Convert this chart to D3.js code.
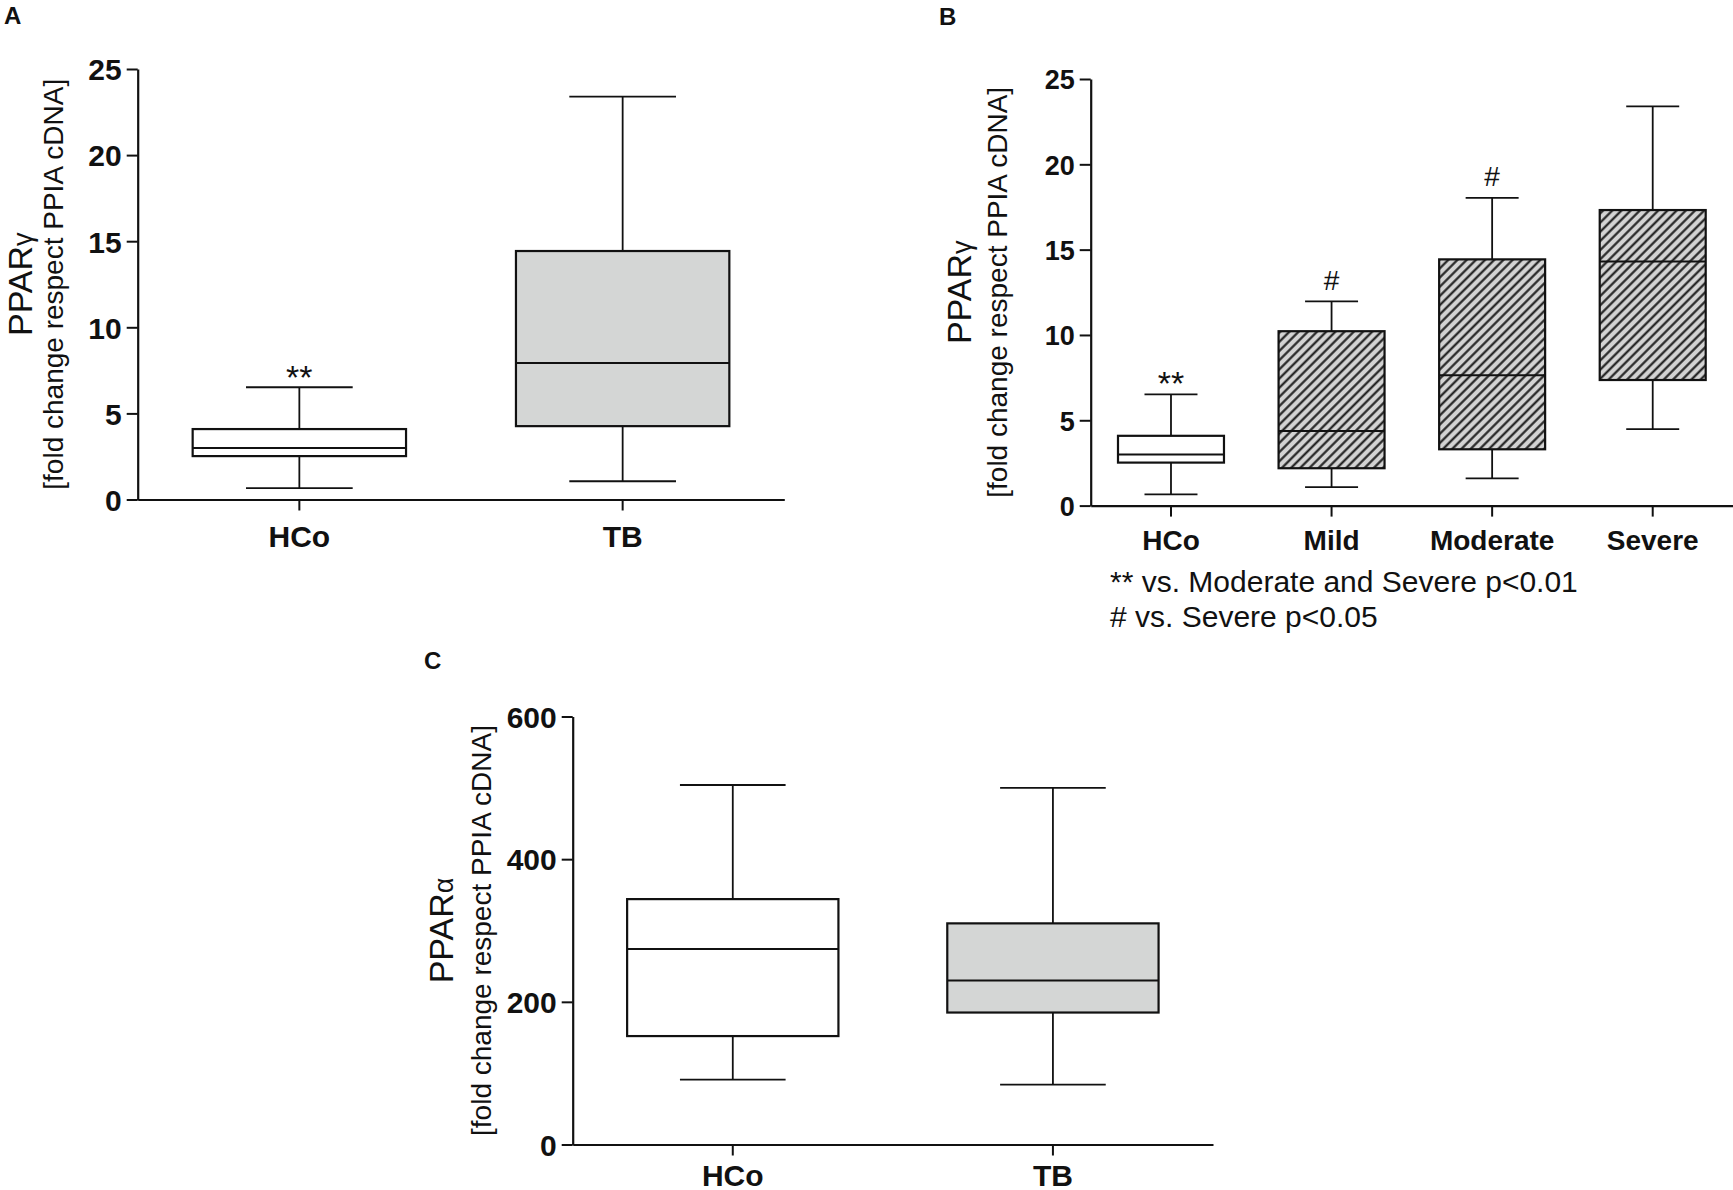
<!DOCTYPE html>
<html>
<head>
<meta charset="utf-8">
<script src="https://cdn.jsdelivr.net/npm/d3@7"></script>
<style>
    body { margin: 0; background: #fff; }
    svg { display: block; }
    text { font-family: "Liberation Sans", Arial, sans-serif; fill: #111; }
</style>
</head>
<body>
<div id="chart"></div>
<script>
// Panel A: PPARgamma, HCo vs TB
const groupsA = ["HCo", "TB"];
const lowA = [0.66, 1.06];
const q1A = [2.52, 4.26];
const medianA = [2.99, 7.92];
const q3A = [4.09, 14.43];
const highA = [6.52, 23.4];
const ticksA = [0, 5, 10, 15, 20, 25];
const fillsA = ["white", "gray"];
const notesA = [{ group: "HCo", text: "**", value: 7.63 }];

// Panel B: PPARgamma by severity
const groupsB = ["HCo", "Mild", "Moderate", "Severe"];
const lowB = [0.66, 1.08, 1.6, 4.48];
const q1B = [2.52, 2.19, 3.3, 7.36];
const medianB = [2.99, 4.37, 7.64, 14.31];
const q3B = [4.09, 10.22, 14.43, 17.32];
const highB = [6.52, 11.97, 18.03, 23.4];
const ticksB = [0, 5, 10, 15, 20, 25];
const fillsB = ["white", "hatch", "hatch", "hatch"];
const notesB = [
    { group: "HCo", text: "**", value: 7.7 },
    { group: "Mild", text: "#", value: 13.2 },
    { group: "Moderate", text: "#", value: 19.3 }
];
const footnotesB = ["** vs. Moderate and Severe p<0.01", "# vs. Severe p<0.05"];

// Panel C: PPARalpha, HCo vs TB
const groupsC = ["HCo", "TB"];
const lowC = [91, 84];
const q1C = [152, 185];
const medianC = [274, 230];
const q3C = [344, 310];
const highC = [504, 500];
const ticksC = [0, 200, 400, 600];
const fillsC = ["white", "gray"];

const width = 1733, height = 1190;
const ink = "#111";

const svg = d3.select("#chart").append("svg")
    .attr("width", width)
    .attr("height", height)
    .attr("viewBox", `0 0 ${width} ${height}`);

// diagonal hatch used by the disease groups in B
const hatchStep = 6.5;
const hatch = svg.append("defs").append("pattern")
    .attr("id", "hatch")
    .attr("patternUnits", "userSpaceOnUse")
    .attr("width", hatchStep)
    .attr("height", hatchStep)
    .attr("patternTransform", "rotate(45)");
hatch.append("rect").attr("width", hatchStep).attr("height", hatchStep).attr("fill", "#d3d3d3");
hatch.append("line")
    .attr("x1", hatchStep / 2).attr("y1", 0).attr("x2", hatchStep / 2).attr("y2", hatchStep)
    .attr("stroke", "#1a1a1a").attr("stroke-width", 2.1);

const fillColor = f => f === "hatch" ? "url(#hatch)" : f === "gray" ? "#d4d6d5" : "#fff";

function drawPanel(o) {
    const x = d3.scaleBand().domain(o.groups).range([o.left, o.right]);
    const y = d3.scaleLinear().domain([0, o.max]).range([o.bottom, o.top]);
    const g = svg.append("g");

    const bw = x.bandwidth() * 0.66;
    const cw = bw / 2;
    const stats = o.groups.map((grp, i) => ({
        grp, low: o.low[i], q1: o.q1[i], med: o.median[i], q3: o.q3[i], high: o.high[i], fill: o.fills[i]
    }));

    // y axis
    const yAxis = g.append("g")
        .attr("transform", `translate(${o.left},0)`)
        .call(d3.axisLeft(y).tickValues(o.ticks).tickSize(11).tickSizeOuter(0).tickPadding(5));
    yAxis.attr("font-family", null).attr("font-size", null);
    yAxis.select(".domain").attr("stroke", ink).attr("stroke-width", 2.2);
    yAxis.selectAll(".tick line").attr("stroke", ink).attr("stroke-width", 2);
    yAxis.selectAll(".tick text")
        .style("font-size", o.tickFont + "px")
        .style("font-weight", "bold")
        .attr("dy", "0.36em");

    // x axis
    const xAxis = g.append("g")
        .attr("transform", `translate(0,${o.bottom})`)
        .call(d3.axisBottom(x).tickSize(11).tickSizeOuter(0));
    xAxis.attr("font-family", null).attr("font-size", null);
    xAxis.select(".domain").attr("stroke", ink).attr("stroke-width", 2.2);
    xAxis.selectAll(".tick line").attr("stroke", ink).attr("stroke-width", 2);
    xAxis.selectAll(".tick text")
        .style("font-size", o.labelFont + "px")
        .style("font-weight", "bold")
        .attr("y", o.labelY)
        .attr("dy", 0);

    const box = g.selectAll(".box")
        .data(stats)
        .join("g")
        .attr("class", "box")
        .attr("transform", d => `translate(${x(d.grp) + x.bandwidth() / 2},0)`);

    box.append("line")
        .attr("y1", d => y(d.high)).attr("y2", d => y(d.q3))
        .attr("stroke", ink).attr("stroke-width", 1.8);
    box.append("line")
        .attr("y1", d => y(d.q1)).attr("y2", d => y(d.low))
        .attr("stroke", ink).attr("stroke-width", 1.8);
    box.append("line")
        .attr("x1", -cw / 2).attr("x2", cw / 2)
        .attr("y1", d => y(d.high)).attr("y2", d => y(d.high))
        .attr("stroke", ink).attr("stroke-width", 1.8);
    box.append("line")
        .attr("x1", -cw / 2).attr("x2", cw / 2)
        .attr("y1", d => y(d.low)).attr("y2", d => y(d.low))
        .attr("stroke", ink).attr("stroke-width", 1.8);
    box.append("rect")
        .attr("x", -bw / 2)
        .attr("width", bw)
        .attr("y", d => y(d.q3))
        .attr("height", d => y(d.q1) - y(d.q3))
        .attr("fill", d => fillColor(d.fill))
        .attr("stroke", ink)
        .attr("stroke-width", 2.2);
    box.append("line")
        .attr("x1", -bw / 2).attr("x2", bw / 2)
        .attr("y1", d => y(d.med)).attr("y2", d => y(d.med))
        .attr("stroke", ink).attr("stroke-width", 2);

    // significance marks
    g.selectAll(".note")
        .data(o.notes || [])
        .join("text")
        .attr("class", "note")
        .attr("x", d => x(d.group) + x.bandwidth() / 2)
        .attr("y", d => y(d.value))
        .attr("dy", d => d.text === "#" ? "0.36em" : "0.6em")
        .attr("text-anchor", "middle")
        .style("font-size", d => d.text === "#" ? "28px" : "34px")
        .text(d => d.text);

    // axis titles
    const midY = (o.top + o.bottom) / 2;
    const title = g.append("text")
        .attr("transform", `translate(${o.left + o.titleDx},${midY}) rotate(-90)`)
        .attr("text-anchor", "middle")
        .style("font-size", "34px");
    title.append("tspan").text(o.title);
    title.append("tspan").style("font-size", "27px").text(o.greek);
    g.append("text")
        .attr("transform", `translate(${o.left + o.subDx},${midY}) rotate(-90)`)
        .attr("text-anchor", "middle")
        .style("font-size", "28px")
        .text("[fold change respect PPIA cDNA]");

    // panel letter
    g.append("text")
        .attr("x", o.letterX)
        .attr("y", o.letterY)
        .style("font-size", "24px")
        .style("font-weight", "bold")
        .text(o.letter);
}

drawPanel({
    letter: "A", letterX: 4, letterY: 24,
    groups: groupsA, low: lowA, q1: q1A, median: medianA, q3: q3A, high: highA,
    fills: fillsA, notes: notesA, ticks: ticksA, max: 25,
    left: 137.7, right: 784.3, top: 69, bottom: 499.5,
    tickFont: 30, labelFont: 30, labelY: 47,
    title: "PPAR", greek: "γ", titleDx: -106, subDx: -75
});

drawPanel({
    letter: "B", letterX: 939, letterY: 25,
    groups: groupsB, low: lowB, q1: q1B, median: medianB, q3: q3B, high: highB,
    fills: fillsB, notes: notesB, ticks: ticksB, max: 25,
    left: 1090.7, right: 1733, top: 79, bottom: 505.6,
    tickFont: 27, labelFont: 28, labelY: 44,
    title: "PPAR", greek: "γ", titleDx: -120, subDx: -84
});

drawPanel({
    letter: "C", letterX: 424, letterY: 669,
    groups: groupsC, low: lowC, q1: q1C, median: medianC, q3: q3C, high: highC,
    fills: fillsC, notes: [], ticks: ticksC, max: 600,
    left: 572.7, right: 1213, top: 716.5, bottom: 1144.5,
    tickFont: 30, labelFont: 30, labelY: 41,
    title: "PPAR", greek: "α", titleDx: -120, subDx: -82
});

// footnote under panel B
svg.selectAll(".footnote")
    .data(footnotesB)
    .join("text")
    .attr("class", "footnote")
    .attr("x", 1110)
    .attr("y", (d, i) => 592 + i * 35)
    .style("font-size", "30px")
    .text(d => d);
</script>
</body>
</html>
